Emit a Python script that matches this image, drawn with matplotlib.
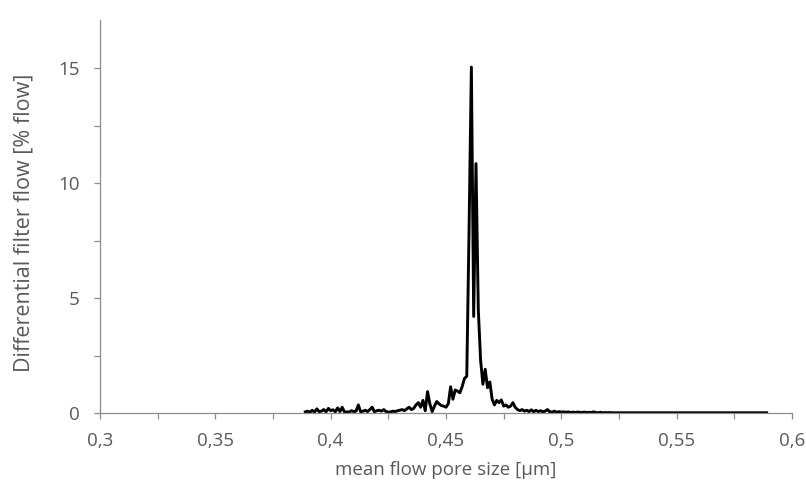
import matplotlib
matplotlib.use("Agg")
import matplotlib.pyplot as plt
from matplotlib.ticker import MultipleLocator, FuncFormatter

# pore size [µm], step 0.001 from 0.389 to 0.589
pore_size_start = 0.389
pore_size_step = 0.001

flow_values = [
    0.05, 0.08, 0.03, 0.12, 0.04, 0.18, 0.06, 0.08, 0.15, 0.05,   # 0.389-0.398
    0.20, 0.10, 0.14, 0.05, 0.22, 0.06, 0.25, 0.04, 0.05, 0.04,   # 0.399-0.408
    0.10, 0.06, 0.08, 0.35, 0.05, 0.08, 0.12, 0.06, 0.15, 0.25,   # 0.409-0.418
    0.05, 0.10, 0.12, 0.08, 0.15, 0.06, 0.04, 0.05, 0.08, 0.06,   # 0.419-0.428
    0.10, 0.12, 0.15, 0.10, 0.18, 0.25, 0.15, 0.20, 0.35, 0.45,   # 0.429-0.438
    0.25, 0.55, 0.10, 0.93, 0.40, 0.06, 0.30, 0.50, 0.40, 0.32,   # 0.439-0.448
    0.30, 0.25, 0.40, 1.14, 0.60, 1.00, 0.95, 0.88, 1.15, 1.50,   # 0.449-0.458
    1.60, 8.00, 15.05, 4.20, 10.85, 4.50, 2.30, 1.25, 1.90, 1.10,  # 0.459-0.468
    1.35, 0.60, 0.35, 0.55, 0.45, 0.57, 0.30, 0.35, 0.25, 0.30,   # 0.469-0.478
    0.45, 0.25, 0.15, 0.10, 0.15, 0.08, 0.12, 0.06, 0.14, 0.05,   # 0.479-0.488
    0.12, 0.06, 0.10, 0.05, 0.08, 0.15, 0.05, 0.04, 0.08, 0.03,   # 0.489-0.498
    0.06, 0.04, 0.05, 0.03, 0.05, 0.02, 0.04, 0.02, 0.04, 0.03,   # 0.499-0.508
    0.02, 0.04, 0.02, 0.03, 0.02, 0.05, 0.02, 0.01, 0.03, 0.01,   # 0.509-0.518
    0.02, 0.01, 0.02, 0.01, 0.01, 0.01, 0.01, 0.01, 0.01, 0.01,   # 0.519-0.528
    0.01, 0.01, 0.01, 0.01, 0.01, 0.01, 0.01, 0.01, 0.01, 0.01,   # 0.529-0.538
    0.01, 0.01, 0.01, 0.01, 0.01, 0.01, 0.01, 0.01, 0.01, 0.01,   # 0.539-0.548
    0.01, 0.01, 0.01, 0.01, 0.01, 0.01, 0.01, 0.01, 0.01, 0.01,   # 0.549-0.558
    0.01, 0.01, 0.01, 0.01, 0.01, 0.01, 0.01, 0.01, 0.01, 0.01,   # 0.559-0.568
    0.01, 0.01, 0.01, 0.01, 0.01, 0.01, 0.01, 0.01, 0.01, 0.01,   # 0.569-0.578
    0.01, 0.01, 0.01, 0.01, 0.01, 0.01, 0.01, 0.01, 0.01, 0.01,   # 0.579-0.588
    0.01,                                                          # 0.589
]
pore_sizes = [round(pore_size_start + pore_size_step * i, 3) for i in range(len(flow_values))]

x_label = "mean flow pore size [µm]"
y_label = "Differential filter flow [% flow]"

plt.rcParams['font.family'] = ['Open Sans', 'DejaVu Sans']
text_color = '#595959'
axis_color = '#8c8c8c'
fs = 13.5

fig = plt.figure(figsize=(8.06, 4.90), dpi=100)
ax = fig.add_axes([100 / 806, 1 - 413 / 490, (792 - 100) / 806, (413 - 20) / 490])

ax.plot(pore_sizes, flow_values, color='black', lw=2.1, solid_joinstyle='round')

ax.set_xlim(0.3, 0.6)
ax.set_ylim(0, 17.1)
ax.xaxis.set_major_locator(MultipleLocator(0.05))
ax.xaxis.set_minor_locator(MultipleLocator(0.025))
ax.yaxis.set_major_locator(MultipleLocator(5))
ax.yaxis.set_minor_locator(MultipleLocator(2.5))

def comma_fmt(v, pos):
    s = f"{v:.2f}".rstrip('0').rstrip('.')
    return s.replace('.', ',')

ax.xaxis.set_major_formatter(FuncFormatter(comma_fmt))
ax.yaxis.set_major_formatter(FuncFormatter(lambda v, p: f"{v:g}"))

for side in ['top', 'right']:
    ax.spines[side].set_visible(False)
for side in ['left', 'bottom']:
    ax.spines[side].set_color(axis_color)
    ax.spines[side].set_linewidth(0.9)

ax.tick_params(axis='both', which='both', direction='out', color=axis_color,
               width=0.9, length=4.5, labelcolor=text_color, labelsize=fs)
ax.tick_params(axis='x', which='major', pad=9)
ax.tick_params(axis='y', which='major', pad=10)

ax.set_xlabel(x_label, color=text_color, fontsize=fs, labelpad=8)
ax.set_ylabel(y_label, color=text_color, fontsize=15.5)
ax.yaxis.set_label_coords(-0.095, 0.483)

fig.savefig("out.png", dpi=100, facecolor='white')
